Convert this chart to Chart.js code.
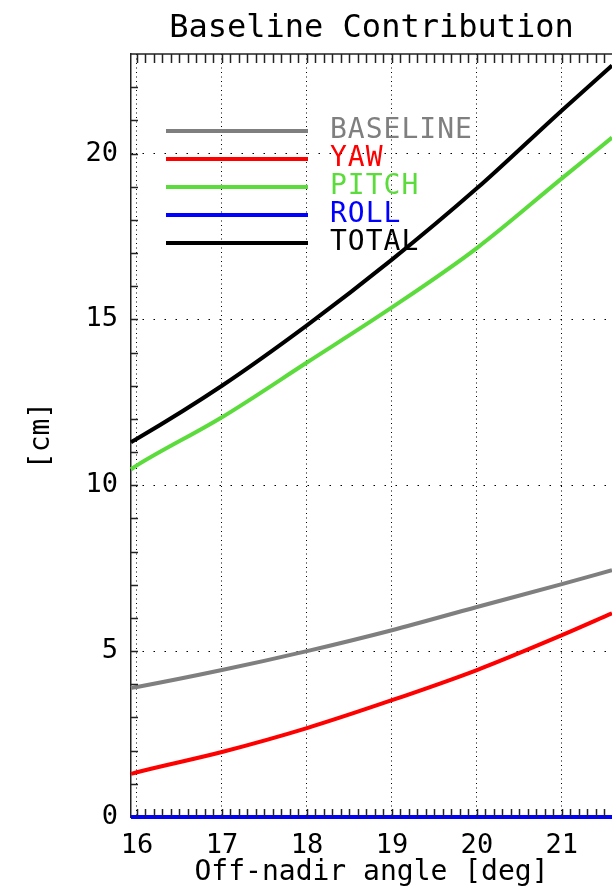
<!DOCTYPE html>
<html>
<head>
<meta charset="utf-8">
<title>Baseline Contribution</title>
<script src="https://cdn.jsdelivr.net/npm/chart.js@4/dist/chart.umd.min.js"></script>
<style>
    html, body { margin: 0; padding: 0; background: #fff; overflow: hidden; }
    #chartBox { width: 612px; height: 890px; }
</style>
</head>
<body>
<div id="chartBox"><canvas id="baselineChart" width="612" height="890"></canvas></div>
<script>
// off-nadir angle [deg] and contributions [cm]
const angles   = [15.93, 16, 17, 18, 19, 20, 21, 21.59];
const baseline = [3.89, 3.92, 4.43, 5.00, 5.63, 6.33, 7.02, 7.44];
const yaw      = [1.30, 1.35, 1.96, 2.68, 3.52, 4.43, 5.48, 6.14];
const pitch    = [10.48, 10.60, 12.05, 13.70, 15.36, 17.15, 19.25, 20.48];
const roll     = [0, 0, 0, 0, 0, 0, 0, 0];
const total    = [11.30, 11.40, 13.00, 14.82, 16.80, 18.95, 21.30, 22.65];

const xTicks = [16, 17, 18, 19, 20, 21];
const yTicks = [0, 5, 10, 15, 20];

const seriesNames  = ['BASELINE', 'YAW', 'PITCH', 'ROLL', 'TOTAL'];
const seriesColors = ['#7f7f7f', '#ff0000', '#5cdc3c', '#0000ff', '#000000'];
const seriesValues = [baseline, yaw, pitch, roll, total];

const monoFont = "'DejaVu Sans Mono', monospace";

function toPoints(values) {
    return angles.map((a, i) => ({ x: a, y: values[i] }));
}

// inward minor ticks + top frame line, like the IDL box
const frameTicks = {
    id: 'frameTicks',
    afterDraw(chart) {
        const { ctx, chartArea, scales } = chart;
        ctx.save();
        ctx.strokeStyle = '#222';
        ctx.lineWidth = 1.5;
        ctx.beginPath();
        ctx.moveTo(chartArea.left, chartArea.top);
        ctx.lineTo(chartArea.right, chartArea.top);
        for (let i = 160; i <= 216; i++) {
            const px = Math.round(scales.x.getPixelForValue(i / 10)) + 0.5;
            ctx.moveTo(px, chartArea.bottom);
            ctx.lineTo(px, chartArea.bottom - 8);
            ctx.moveTo(px, chartArea.top);
            ctx.lineTo(px, chartArea.top + 9);
        }
        for (let v = 1; v <= 22; v++) {
            const py = Math.round(scales.y.getPixelForValue(v)) + 0.5;
            ctx.moveTo(chartArea.left, py);
            ctx.lineTo(chartArea.left + 7, py);
        }
        ctx.stroke();
        ctx.restore();
    }
};

// legend drawn inside the plot, line sample then coloured label
const innerLegend = {
    id: 'innerLegend',
    beforeDatasetsDraw(chart) {
        const { ctx } = chart;
        ctx.save();
        ctx.font = '28px ' + monoFont;
        ctx.letterSpacing = '1px';
        ctx.textBaseline = 'alphabetic';
        chart.data.datasets.forEach((ds, i) => {
            const y = 131 + i * 28;
            ctx.strokeStyle = ds.borderColor;
            ctx.lineWidth = 4;
            ctx.beginPath();
            ctx.moveTo(166, y);
            ctx.lineTo(308, y);
            ctx.stroke();
            ctx.fillStyle = ds.borderColor;
            ctx.fillText(ds.label, 330, y + 7);
        });
        ctx.restore();
    }
};

new Chart(document.getElementById('baselineChart'), {
    type: 'line',
    data: {
        datasets: seriesNames.map((name, i) => ({
            label: name,
            data: toPoints(seriesValues[i]),
            borderColor: seriesColors[i],
            backgroundColor: seriesColors[i],
            borderWidth: 4,
            pointRadius: 0,
            cubicInterpolationMode: 'monotone',
            clip: false
        }))
    },
    options: {
        responsive: false,
        animation: false,
        devicePixelRatio: 1,
        layout: { padding: 0 },
        plugins: {
            legend: { display: false },
            tooltip: { enabled: false },
            title: {
                display: true,
                fullSize: false,
                text: 'Baseline Contribution',
                color: '#000',
                font: { family: monoFont, size: 32, weight: 'normal' },
                padding: { top: 9, bottom: 6.6 }
            }
        },
        scales: {
            x: {
                type: 'linear',
                min: 15.93,
                max: 21.59,
                afterBuildTicks: (scale) => { scale.ticks = xTicks.map(v => ({ value: v })); },
                afterFit: (scale) => { scale.height = 73; },
                ticks: {
                    color: '#000',
                    padding: 13,
                    maxRotation: 0,
                    font: { family: monoFont, size: 27 },
                    callback: (v) => v
                },
                grid: { color: '#000', lineWidth: 1, drawTicks: false },
                border: { color: '#222', width: 1.5, dash: [1, 3.5] },
                title: {
                    display: true,
                    text: 'Off-nadir angle [deg]',
                    color: '#000',
                    font: { family: monoFont, size: 28 },
                    padding: { top: 0, bottom: 0 }
                }
            },
            y: {
                min: 0,
                max: 23,
                afterBuildTicks: (scale) => { scale.ticks = yTicks.map(v => ({ value: v })); },
                afterFit: (scale) => { scale.width = 131; },
                ticks: {
                    color: '#000',
                    padding: 13,
                    font: { family: monoFont, size: 27 }
                },
                grid: { color: '#000', lineWidth: 1, drawTicks: false },
                border: { color: '#222', width: 1.5, dash: [1.5, 9.5] },
                title: {
                    display: true,
                    text: '[cm]',
                    color: '#000',
                    font: { family: monoFont, size: 28 },
                    padding: { top: 25, bottom: 0 }
                }
            }
        }
    },
    plugins: [frameTicks, innerLegend]
});
</script>
</body>
</html>
